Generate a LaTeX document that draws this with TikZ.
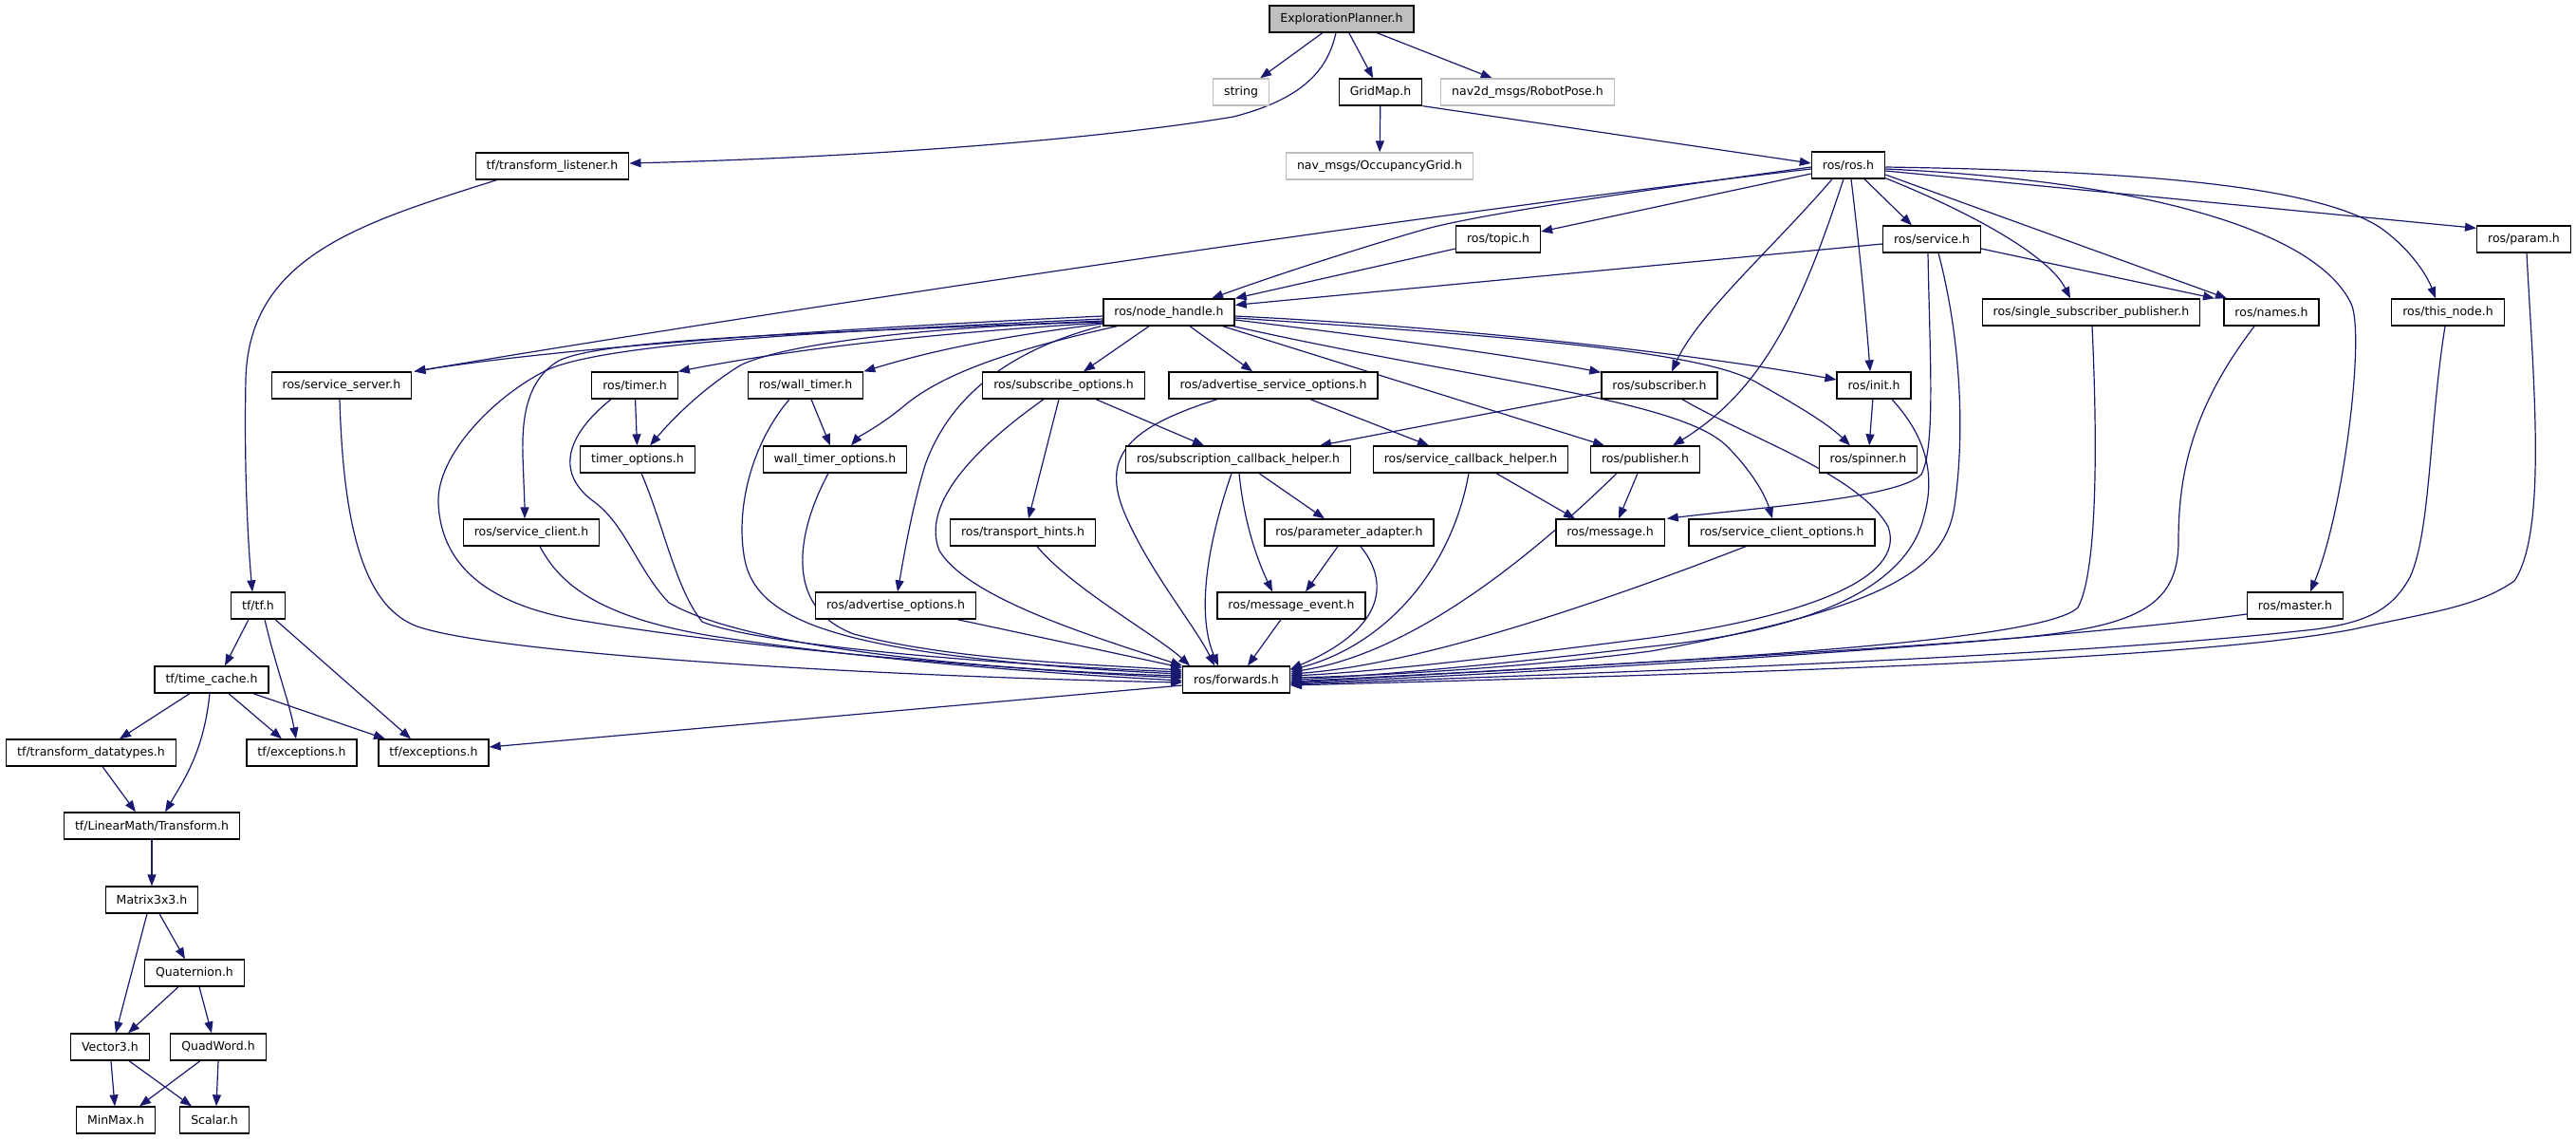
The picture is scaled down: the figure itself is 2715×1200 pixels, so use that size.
\documentclass[tikz,border=0pt]{standalone}
\usepackage{fontspec}
\newfontfamily\dejavu{DejaVu Sans}
\usetikzlibrary{arrows.meta,calc}
\definecolor{edgeblue}{HTML}{191970}
\definecolor{lgray}{HTML}{BFBFBF}
\pgfdeclarelayer{bglayer}
\pgfdeclarelayer{edgelayer}
\pgfsetlayers{bglayer,edgelayer,main}
\begin{document}
\begin{tikzpicture}[x=1pt,y=-1pt,
  box/.style={draw=black, line width=1.3pt, fill=white, minimum height=28pt, inner xsep=11.5pt, inner ysep=0pt, font=\dejavu\fontsize{12.5pt}{15pt}\selectfont},
  gbox/.style={box, draw=lgray},
  rootbox/.style={box, fill=lgray},
  edge/.style={draw=edgeblue, line width=1.2pt, -{Triangle[length=12pt,width=9pt]}}]
\begin{pgfonlayer}{bglayer}
\fill[white] (0,0) rectangle (2715,1200);
\end{pgfonlayer}
\useasboundingbox (0,0) rectangle (2715,1200);

% nodes
\node[rootbox] (ep) at (1414,20) {ExplorationPlanner.h};
\node[gbox] (str) at (1308,97) {string};
\node[box] (grid) at (1455,97) {GridMap.h};
\node[gbox] (pose) at (1610,97) {nav2d\_msgs/RobotPose.h};
\node[box] (tfl) at (582,175) {tf/transform\_listener.h};
\node[gbox] (occ) at (1454,175) {nav\_msgs/OccupancyGrid.h};
\node[box] (ros) at (1948,174) {ros/ros.h};
\node[box] (topic) at (1579,252) {ros/topic.h};
\node[box] (srv) at (2036,252) {ros/service.h};
\node[box] (param) at (2660,252) {ros/param.h};
\node[box] (nh) at (1232,329) {ros/node\_handle.h};
\node[box] (ssp) at (2204,329) {ros/single\_subscriber\_publisher.h};
\node[box] (names) at (2394,329) {ros/names.h};
\node[box] (thisnode) at (2580,329) {ros/this\_node.h};
\node[box] (ssrv) at (360,406) {ros/service\_server.h};
\node[box] (timer) at (669,406) {ros/timer.h};
\node[box] (wtimer) at (849,406) {ros/wall\_timer.h};
\node[box] (subopt) at (1121,406) {ros/subscribe\_options.h};
\node[box] (advsrvopt) at (1342,406) {ros/advertise\_service\_options.h};
\node[box] (sub) at (1749,406) {ros/subscriber.h};
\node[box] (init) at (1975,406) {ros/init.h};
\node[box] (timeropt) at (672,484) {timer\_options.h};
\node[box] (wtimeropt) at (880,484) {wall\_timer\_options.h};
\node[box] (sch) at (1305,484) {ros/subscription\_callback\_helper.h};
\node[box] (svcch) at (1550,484) {ros/service\_callback\_helper.h};
\node[box] (pub) at (1734,484) {ros/publisher.h};
\node[box] (spin) at (1969,484) {ros/spinner.h};
\node[box] (sclient) at (560,561) {ros/service\_client.h};
\node[box] (thints) at (1078,561) {ros/transport\_hints.h};
\node[box] (padapt) at (1422,561) {ros/parameter\_adapter.h};
\node[box] (msg) at (1697,561) {ros/message.h};
\node[box] (scopt) at (1878,561) {ros/service\_client\_options.h};
\node[box] (advopt) at (944,638) {ros/advertise\_options.h};
\node[box] (mevent) at (1361,638) {ros/message\_event.h};
\node[box] (master) at (2419,638) {ros/master.h};
\node[box] (tf) at (272,638) {tf/tf.h};
\node[box] (fwd) at (1303,716) {ros/forwards.h};
\node[box] (tcache) at (223,716) {tf/time\_cache.h};
\node[box] (tdt) at (96,793) {tf/transform\_datatypes.h};
\node[box] (exc1) at (318,793) {tf/exceptions.h};
\node[box] (exc2) at (457,793) {tf/exceptions.h};
\node[box] (ltr) at (160,870) {tf/LinearMath/Transform.h};
\node[box] (mat) at (160,948) {Matrix3x3.h};
\node[box] (quat) at (205,1025) {Quaternion.h};
\node[box] (vec) at (116,1103) {Vector3.h};
\node[box] (quad) at (230,1103) {QuadWord.h};
\node[box] (minmax) at (122,1180) {MinMax.h};
\node[box] (scalar) at (226,1180) {Scalar.h};

\begin{pgfonlayer}{edgelayer}
% top
\draw[edge] (ep) -- (str);
\draw[edge] (ep) -- (grid);
\draw[edge] (ep) -- (pose);
\draw[edge] ($(ep.south)+(-6,0)$) .. controls (1400,70) and (1378,103) .. (1300,123) .. controls (1150,148) and (900,166) .. ($(tfl.east)+(0,-3)$);
\draw[edge] (grid) -- (occ);
\draw[edge] (grid.south east) -- ($(ros.west)+(0,-2)$);
\draw[edge] ($(tfl.south west)+(23,0)$) .. controls (380,235) and (262,270) .. (259,400) .. controls (257,500) and (262,580) .. ($(tf.north)+(-6,0)$);

% tf part
\draw[edge] ($(tf.south)+(-10,0)$) -- ($(tcache.north)+(14,0)$);
\draw[edge] ($(tf.south)+(7,0)$) .. controls (290,700) and (305,740) .. ($(exc1.north)+(-6,0)$);
\draw[edge] ($(tf.south)+(18,0)$) -- ($(exc2.north)+(-24,0)$);
\draw[edge] ($(tcache.south)+(-23,0)$) -- ($(tdt.north)+(30,0)$);
\draw[edge] ($(tcache.south)+(-2,0)$) .. controls (215,790) and (195,820) .. ($(ltr.north)+(14,0)$);
\draw[edge] ($(tcache.south)+(18,0)$) -- ($(exc1.north)+(-21,0)$);
\draw[edge] ($(tcache.south)+(44,0)$) -- ($(exc2.north)+(-51,0)$);
\draw[edge] ($(tdt.south)+(12,0)$) -- ($(ltr.north)+(-17,0)$);
\draw[edge] (ltr) -- (mat);
\draw[edge] ($(mat.south)+(-5,0)$) -- ($(vec.north)+(6,0)$);
\draw[edge] ($(mat.south)+(8,0)$) -- ($(quat.north)+(-10,0)$);
\draw[edge] ($(quat.south)+(-17,0)$) -- ($(vec.north)+(19,0)$);
\draw[edge] ($(quat.south)+(5,0)$) -- ($(quad.north)+(-7,0)$);
\draw[edge] ($(vec.south)+(1,0)$) -- ($(minmax.north)+(-1,0)$);
\draw[edge] ($(vec.south)+(20,0)$) -- ($(scalar.north)+(-24,0)$);
\draw[edge] ($(quad.south)+(-19,0)$) -- ($(minmax.north)+(25,0)$);
\draw[edge] (quad.south) -- ($(scalar.north)+(2,0)$);

% ros.h
\draw[edge] ($(ros.west)+(0,9)$) -- ($(topic.east)+(0,-8)$);
\draw[edge] ($(ros.west)+(0,2)$) .. controls (1750,198) and (1560,225) .. (1500,242) .. controls (1420,265) and (1330,295) .. ($(nh.north)+(45,0)$);
\draw[edge] ($(ros.west)+(0,4)$) .. controls (1500,225) and (800,330) .. ($(ssrv.north east)+(2,0)$);
\draw[edge] ($(srv.west)+(0,5)$) -- ($(nh.north east)+(0,7)$);
\draw[edge] ($(topic.west)+(0,10)$) -- (nh.north east);
\draw[edge] ($(ros.south)+(-17,0)$) .. controls (1870,260) and (1790,330) .. ($(sub.north)+(13,0)$);
\draw[edge] ($(ros.south)+(-5,0)$) .. controls (1900,320) and (1860,410) .. ($(pub.north)+(29,0)$);
\draw[edge] ($(ros.south)+(3,0)$) .. controls (1962,280) and (1968,350) .. ($(init.north)+(-4,0)$);
\draw[edge] ($(ros.south)+(17,0)$) -- ($(srv.north)+(-21,0)$);
\draw[edge] ($(ros.south east)+(0,-1)$) .. controls (2080,225) and (2160,270) .. ($(ssp.north)+(-22,0)$);
\draw[edge] ($(ros.east)+(0,10)$) -- ($(names.north)+(-47,0)$);
\draw[edge] ($(srv.east)+(0,10)$) -- ($(names.north)+(-60,0)$);
\draw[edge] ($(ros.east)+(0,6)$) -- ($(param.north west)+(0,3)$);
\draw[edge] ($(ros.east)+(0,2)$) .. controls (2250,180) and (2440,195) .. (2509,240) .. controls (2540,262) and (2558,290) .. ($(thisnode.north)+(-13,0)$);
\draw[edge] ($(ros.east)+(0,4)$) .. controls (2250,190) and (2440,240) .. (2478,320) .. controls (2493,352) and (2470,540) .. ($(master.north)+(16,0)$);

% service.h
\draw[edge] ($(srv.south)+(-4,0)$) .. controls (2034,380) and (2040,470) .. (2025,500) .. controls (2000,525) and (1850,535) .. ($(msg.north east)+(2,0)$);
\draw[edge] ($(srv.south)+(7,0)$) .. controls (2065,350) and (2072,450) .. (2060,533) .. controls (2050,600) and (1990,640) .. (1740,686) .. controls (1600,704) and (1450,712) .. ($(fwd.east)+(0,-2)$);

% right group into forwards
\draw[edge] ($(sub.south)+(24,0)$) .. controls (1840,460) and (1960,500) .. (1990,555) .. controls (2010,610) and (1900,650) .. (1740,672) .. controls (1600,690) and (1450,708) .. ($(fwd.east)+(0,-4)$);
\draw[edge] ($(init.south)+(19,0)$) .. controls (2030,460) and (2040,500) .. (2028,543) .. controls (2015,600) and (1950,660) .. (1740,681) .. controls (1600,698) and (1450,712) .. (fwd.east);
\draw[edge] (init) -- (spin);
\draw[edge] ($(ssp.south)+(1,0)$) .. controls (2210,450) and (2212,600) .. (2190,640) .. controls (2150,680) and (1700,700) .. ($(fwd.east)+(0,2)$);
\draw[edge] ($(names.south)+(-18,0)$) .. controls (2310,430) and (2296,500) .. (2296,570) .. controls (2296,640) and (2250,660) .. (2126,672) .. controls (1900,690) and (1600,705) .. ($(fwd.east)+(0,3)$);
\draw[edge] ($(master.west)+(0,9)$) .. controls (2200,670) and (1800,700) .. ($(fwd.east)+(0,4)$);
\draw[edge] ($(thisnode.south)+(-3,0)$) .. controls (2560,450) and (2562,560) .. (2540,608) .. controls (2520,645) and (2490,656) .. (2440,663) .. controls (2200,690) and (1800,705) .. ($(fwd.east)+(0,5)$);
\draw[edge] ($(param.south)+(3,0)$) .. controls (2670,400) and (2685,560) .. (2650,612) .. controls (2610,640) and (2560,645) .. (2480,663) .. controls (2300,697) and (1800,710) .. ($(fwd.east)+(0,6)$);
\draw[edge] ($(scopt.south)+(-38,0)$) .. controls (1700,630) and (1500,700) .. ($(fwd.east)+(0,-6)$);
\draw[edge] ($(pub.south)+(-30,0)$) .. controls (1600,600) and (1480,690) .. ($(fwd.east)+(0,-8)$);
\draw[edge] ($(svcch.south)+(-2,0)$) .. controls (1530,600) and (1460,680) .. ($(fwd.east)+(0,-10)$);
\draw[edge] ($(padapt.south)+(12,0)$) .. controls (1462,610) and (1465,660) .. ($(fwd.east)+(0,-11)$);

% middle
\draw[edge] ($(mevent.south)+(-11,0)$) -- ($(fwd.north)+(12,0)$);
\draw[edge] ($(sch.south)+(1,0)$) .. controls (1312,560) and (1330,600) .. ($(mevent.north)+(-20,0)$);
\draw[edge] ($(padapt.south)+(-12,0)$) -- ($(mevent.north)+(15,0)$);
\draw[edge] ($(sch.south)+(22,0)$) -- ($(padapt.north)+(-26,0)$);
\draw[edge] ($(sch.south)+(-7,0)$) .. controls (1270,580) and (1262,650) .. ($(fwd.north)+(-19,0)$);
\draw[edge] ($(svcch.south)+(27,0)$) -- ($(msg.north)+(-37,0)$);
\draw[edge] ($(pub.south)+(-8,0)$) -- ($(msg.north)+(9,0)$);
\draw[edge] ($(advsrvopt.south)+(39,0)$) -- ($(svcch.north)+(-44,0)$);
\draw[edge] ($(advsrvopt.south)+(-59,0)$) .. controls (1190,450) and (1160,480) .. (1185,540) .. controls (1210,600) and (1260,660) .. ($(fwd.north)+(-23,0)$);
\draw[edge] ($(subopt.south)+(34,0)$) -- ($(sch.north)+(-36,0)$);
\draw[edge] ($(subopt.south)+(-5,0)$) -- ($(thints.north)+(6,0)$);
\draw[edge] ($(subopt.south)+(-21,0)$) .. controls (1030,470) and (970,530) .. (990,580) .. controls (1020,630) and (1150,670) .. (fwd.north west);
\draw[edge] ($(thints.south)+(15,0)$) .. controls (1130,620) and (1220,670) .. ($(fwd.north west)+(8,0)$);
\draw[edge] ($(advopt.south east)+(-20,0)$) -- ($(fwd.north west)+(0,2)$);

% node_handle
\draw[edge] ($(nh.south)+(-21,0)$) -- ($(subopt.north)+(21,0)$);
\draw[edge] ($(nh.south)+(22,0)$) -- ($(advsrvopt.north)+(-22,0)$);
\draw[edge] ($(nh.south west)+(-2,0)$) .. controls (1060,370) and (1000,420) .. (975,490) .. controls (960,540) and (952,590) .. ($(advopt.north)+(2,0)$);
\draw[edge] ($(nh.east)+(0,8)$) .. controls (1450,355) and (1600,375) .. ($(sub.north west)+(0,1)$);
\draw[edge] ($(nh.east)+(0,4)$) .. controls (1550,345) and (1800,375) .. ($(init.west)+(0,-6)$);
\draw[edge] ($(nh.east)+(0,6)$) .. controls (1600,355) and (1800,370) .. (1855,405) .. controls (1890,425) and (1925,445) .. ($(spin.north)+(-19,0)$);
\draw[edge] ($(nh.south east)+(-13,0)$) -- ($(pub.north)+(-43,0)$);
\draw[edge] ($(nh.south east)+(-2,0)$) .. controls (1550,400) and (1770,420) .. (1820,470) .. controls (1845,495) and (1860,520) .. ($(scopt.north)+(-10,0)$);
\draw[edge] ($(sub.west)+(0,7)$) -- ($(sch.north east)+(-33,0)$);
\draw[edge] ($(nh.west)+(0,4)$) .. controls (900,345) and (600,365) .. ($(ssrv.north east)+(2,0)$);
\draw[edge] ($(nh.west)+(0,7)$) .. controls (900,348) and (640,360) .. (576,390) .. controls (520,418) and (460,480) .. (462,530) .. controls (465,600) and (520,640) .. (620,655) .. controls (800,685) and (1100,708) .. ($(fwd.west)+(0,-2)$);
\draw[edge] ($(nh.west)+(0,9)$) .. controls (900,350) and (640,355) .. (589,380) .. controls (555,400) and (550,440) .. (551,480) .. controls (552,510) and (553,530) .. ($(sclient.north)+(-7,0)$);
\draw[edge] ($(nh.west)+(0,11)$) .. controls (1000,350) and (850,365) .. (timer.north east);
\draw[edge] ($(nh.west)+(0,12)$) .. controls (1050,355) and (980,370) .. (wtimer.north east);
\draw[edge] ($(nh.west)+(0,10)$) .. controls (950,345) and (820,365) .. (780,385) .. controls (740,410) and (710,440) .. ($(timeropt.north)+(13,0)$);
\draw[edge] ($(nh.south west)+(15,0)$) .. controls (1060,370) and (990,395) .. (950,430) .. controls (925,450) and (905,460) .. ($(wtimeropt.north)+(17,0)$);

% left group
\draw[edge] (timer) -- (timeropt);
\draw[edge] ($(wtimer.south)+(6,0)$) -- ($(wtimeropt.north)+(-5,0)$);
\draw[edge] ($(timer.south)+(-25,0)$) .. controls (595,460) and (585,500) .. (628,530) .. controls (660,555) and (672,600) .. (705,635) .. controls (800,690) and (1100,708) .. ($(fwd.west)+(0,-4)$);
\draw[edge] ($(wtimer.south)+(-17,0)$) .. controls (790,470) and (775,540) .. (785,590) .. controls (795,640) and (850,670) .. (1000,690) .. controls (1100,703) and (1200,708) .. ($(fwd.west)+(0,-6)$);
\draw[edge] ($(timeropt.south)+(4,0)$) .. controls (700,555) and (712,620) .. (740,655) .. controls (800,680) and (1050,700) .. ($(fwd.west)+(0,-8)$);
\draw[edge] ($(wtimeropt.south)+(-7,0)$) .. controls (840,560) and (825,640) .. (900,668) .. controls (1000,695) and (1150,700) .. ($(fwd.west)+(0,-10)$);
\draw[edge] ($(ssrv.south)+(-2,0)$) .. controls (362,560) and (385,640) .. (440,660) .. controls (520,688) and (900,712) .. ($(fwd.west)+(0,3)$);
\draw[edge] ($(sclient.south)+(9,0)$) .. controls (590,615) and (630,650) .. (750,670) .. controls (950,700) and (1150,712) .. ($(fwd.west)+(0,1)$);
\draw[edge] ($(fwd.west)+(0,6)$) -- ($(exc2.east)+(0,-6)$);
\end{pgfonlayer}
\end{tikzpicture}
\end{document}
